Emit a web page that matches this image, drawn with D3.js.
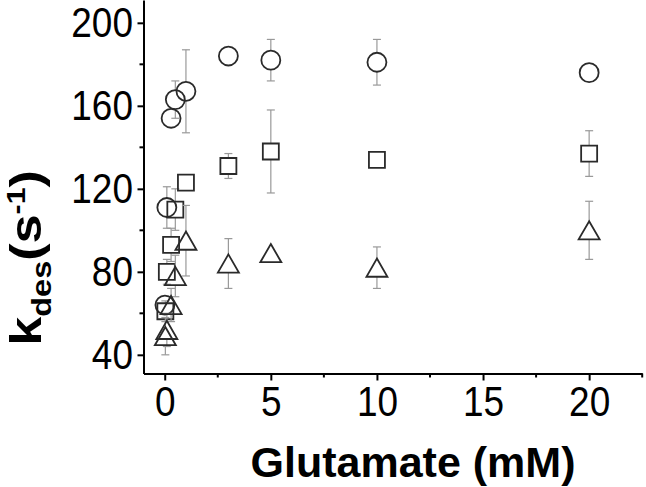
<!DOCTYPE html>
<html>
<head>
<meta charset="utf-8">
<script src="https://cdn.jsdelivr.net/npm/d3@7"></script>
<style>
  body { margin: 0; background: #fff; }
  text { font-family: Arial, "Liberation Sans", sans-serif; }
</style>
</head>
<body>
<div id="chart"></div>
<script>
// glutamate concentration (mM) and desensitization rate (1/s) for each series
const circleX = [0.01, 0.1, 0.3, 0.5, 1, 3, 5, 10, 20];
const circleY = [64, 111, 154, 163, 167, 184, 182, 181, 176];
const circleErr = [4, 10, 3, 9, 20, 2, 10, 11, 2];

const squareX = [0.03, 0.1, 0.3, 0.5, 1, 3, 5, 10, 20];
const squareY = [61, 80, 93, 110, 123, 131, 138, 134, 137];
const squareErr = [5, 6, 8, 10, 3, 6, 20, 2, 11];

const triangleX = [0.03, 0.1, 0.3, 0.5, 1, 3, 5, 10, 20];
const triangleY = [49, 52, 64, 78, 95, 84, 89, 82, 100];
const triangleErr = [9, 8, 8, 10, 17, 12, 2, 10, 14];

const xTicks = [0, 5, 10, 15, 20];
const xMinorTicks = [2.5, 7.5, 12.5, 17.5, 22.5];
const yTicks = [40, 80, 120, 160, 200];
const yMinorTicks = [60, 100, 140, 180];

const width = 646, height = 487;

const svg = d3.select('#chart').append('svg')
    .attr('width', width)
    .attr('height', height);

const x = d3.scaleLinear().domain([-1, 22.5]).range([143.5, 642.2]);
const y = d3.scaleLinear().domain([31, 211]).range([373.5, 0]);

// axes
const xAxis = d3.axisBottom(x).tickValues(xTicks).tickSize(7).tickPadding(6).tickSizeOuter(0);
const yAxis = d3.axisLeft(y).tickValues(yTicks).tickSize(6).tickPadding(6).tickSizeOuter(0);

const xAxisG = svg.append('g')
    .attr('transform', `translate(0,${y(31)})`)
    .call(xAxis);
const yAxisG = svg.append('g')
    .attr('transform', `translate(${x(-1)},0)`)
    .call(yAxis);

// minor ticks
xAxisG.selectAll('.minor')
    .data(xMinorTicks)
    .join('line')
    .attr('class', 'minor')
    .attr('x1', d => x(d)).attr('x2', d => x(d))
    .attr('y1', 0).attr('y2', 4);
yAxisG.selectAll('.minor')
    .data(yMinorTicks)
    .join('line')
    .attr('class', 'minor')
    .attr('y1', d => y(d)).attr('y2', d => y(d))
    .attr('x1', 0).attr('x2', -4);

[xAxisG, yAxisG].forEach(g => {
    g.selectAll('path, line').attr('stroke', '#000').attr('stroke-width', 2);
    g.selectAll('text')
        .attr('font-size', 42)
        .attr('font-family', 'Arial, "Liberation Sans", sans-serif')
        .attr('fill', '#000')
        .attr('transform', 'scale(0.88,1)');
});

// axis titles
svg.append('text')
    .attr('x', 413)
    .attr('y', 477)
    .attr('text-anchor', 'middle')
    .attr('font-size', 43)
    .attr('font-weight', 'bold')
    .text('Glutamate (mM)');

const yTitle = svg.append('text')
    .attr('transform', 'translate(41,258) rotate(-90) scale(1.16,1)')
    .attr('text-anchor', 'middle')
    .attr('font-size', 45)
    .attr('font-weight', 'bold');
yTitle.append('tspan').text('k');
yTitle.append('tspan').attr('font-size', 28).attr('dy', 10).text('des');
yTitle.append('tspan').attr('dy', -10).text('(s');
yTitle.append('tspan').attr('font-size', 26).attr('dy', -16).text('-1');
yTitle.append('tspan').attr('dy', 16).text(')');

// series markers with error bars
const series = [
    { xs: circleX, ys: circleY, errs: circleErr, type: d3.symbolCircle, size: 283, half: 9.5, shift: 0 },
    { xs: squareX, ys: squareY, errs: squareErr, type: d3.symbolSquare, size: 256, half: 8, shift: 0 },
    { xs: triangleX, ys: triangleY, errs: triangleErr, type: d3.symbolTriangle, size: 191, half: 9, shift: 3 }
];

const errColor = '#999';
const capW = 4;

series.forEach(s => {
    const pts = s.xs.map((d, i) => ({ x: d, y: s.ys[i], e: s.errs[i] }));
    const g = svg.append('g');

    // error bars start outside the symbol
    pts.forEach(p => {
        const cx = x(p.x), cy = y(p.y);
        const top = y(p.y + p.e), bot = y(p.y - p.e);
        if (cy - top > s.half) {
            g.append('line').attr('x1', cx).attr('x2', cx)
                .attr('y1', top).attr('y2', cy - s.half)
                .attr('stroke', errColor).attr('stroke-width', 1.2);
            g.append('line').attr('x1', cx - capW).attr('x2', cx + capW)
                .attr('y1', top).attr('y2', top)
                .attr('stroke', errColor).attr('stroke-width', 1.2);
        }
        if (bot - cy > s.half) {
            g.append('line').attr('x1', cx).attr('x2', cx)
                .attr('y1', cy + s.half).attr('y2', bot)
                .attr('stroke', errColor).attr('stroke-width', 1.2);
            g.append('line').attr('x1', cx - capW).attr('x2', cx + capW)
                .attr('y1', bot).attr('y2', bot)
                .attr('stroke', errColor).attr('stroke-width', 1.2);
        }
    });

    g.selectAll('.pt')
        .data(pts)
        .join('path')
        .attr('class', 'pt')
        .attr('d', d3.symbol().type(s.type).size(s.size))
        .attr('transform', d => `translate(${x(d.x)},${y(d.y) + s.shift})`)
        .attr('fill', 'none')
        .attr('stroke', '#2a2a2a')
        .attr('stroke-width', 1.8);
});
</script>
</body>
</html>
